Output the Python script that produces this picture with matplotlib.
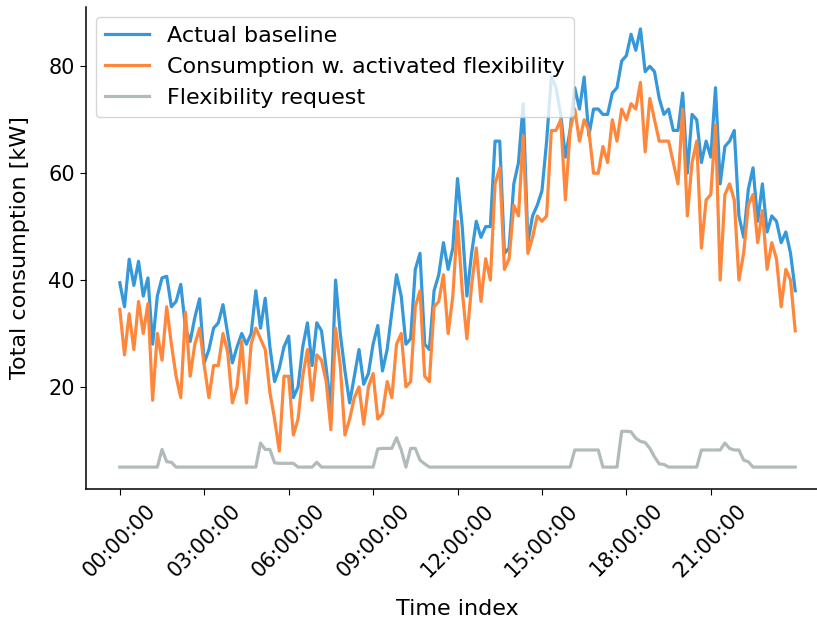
import numpy as np
import matplotlib.pyplot as plt

# =========================
# DATA (10 min resolution, 00:00 -> 24:00)
# =========================

baseline = [
    39.5, 35, 43.9, 39, 43.5, 37, 40.4, 28, 37, 40.4,
    40.7, 35, 36, 39.2, 31, 28.5, 33, 36.5, 24.5, 27,
    31, 32, 35.4, 30, 24.5, 27.5, 30, 28, 30, 38,
    31, 36.6, 27.5, 21, 23.5, 27.5, 29.5, 18, 20, 27.5,
    32, 24, 32, 30.5, 23.5, 16, 40, 30, 23, 17,
    22, 27, 20.5, 22.5, 28, 31.5, 23, 27, 34, 41,
    37, 28, 29, 42, 45, 28, 27, 38, 41, 47,
    42, 46, 59, 50, 37, 45, 51, 48, 50, 50,
    66, 66, 45, 46, 58, 62, 73, 47, 52, 54,
    56.7, 66, 78, 76, 71, 63, 68, 76, 72, 78,
    67, 72, 72, 71, 71, 75, 76, 81, 82, 86,
    83, 87, 79, 80, 79, 74, 71, 72, 68, 68,
    75, 60, 71, 70, 62, 66, 63, 76, 58, 65,
    66, 68, 52, 48, 57, 61, 51, 58, 49, 52,
    51, 47, 49, 45, 38,
]

flex_consumption = [
    34.5, 26, 33.7, 27, 36, 30, 35.6, 17.5, 30, 25,
    35, 28, 22, 18, 34, 22, 28, 31, 24, 18,
    24, 24, 30, 26.5, 17, 20, 28.6, 17, 28, 31,
    29, 27, 19, 14, 8, 22, 22, 11, 14, 22,
    27, 17.5, 26, 25, 21, 12, 31, 24, 11, 14,
    18, 20, 13, 20, 22.5, 14, 15, 21, 18, 28,
    30, 20, 21, 35, 38, 22, 21, 35, 36, 41,
    30, 37, 51, 38, 29, 39, 46, 36, 44, 40,
    58, 61, 42, 44, 54, 52, 67, 45, 48, 52,
    51, 52, 68, 68, 70, 55, 68, 72, 66, 70,
    68, 60, 60, 65, 62, 70, 66, 72, 70, 73,
    72, 77, 64, 74, 70, 66, 66, 66, 62, 58,
    72, 52, 62, 66, 46, 55, 56, 69, 40, 56,
    58, 55, 40, 45, 54, 56, 47, 53, 42, 47,
    44, 35, 42, 40, 30.5,
]

flex_request = [
    5, 5, 5, 5, 5, 5, 5, 5, 5, 8.3,
    6, 5.9, 5, 5, 5, 5, 5, 5, 5, 5,
    5, 5, 5, 5, 5, 5, 5, 5, 5, 5,
    9.5, 8.3, 8.3, 5.8, 5.7, 5.7, 5.7, 5.7, 5, 5,
    5, 5, 5.9, 5, 5, 5, 5, 5, 5, 5,
    5, 5, 5, 5, 5, 8.4, 8.5, 8.5, 8.5, 10.5,
    8.2, 5, 8.5, 8.5, 6.3, 5.6, 5, 5, 5, 5,
    5, 5, 5, 5, 5, 5, 5, 5, 5, 5,
    5, 5, 5, 5, 5, 5, 5, 5, 5, 5,
    5, 5, 5, 5, 5, 5, 5, 8.2, 8.2, 8.2,
    8.2, 8.2, 8.2, 5, 5, 5, 5, 11.7, 11.7, 11.6,
    10.4, 9.8, 9.6, 8.5, 6.9, 5.6, 5.5, 5, 5, 5,
    5, 5, 5, 5, 8.2, 8.2, 8.2, 8.2, 8.2, 9.5,
    8.5, 8.2, 8.2, 6.3, 6.0, 5, 5, 5, 5, 5,
    5, 5, 5, 5, 5,
]

tick_hours = [0, 3, 6, 9, 12, 15, 18, 21]
tick_labels = [f"{h:02d}:00:00" for h in tick_hours]

hours = np.arange(len(baseline)) / 6.0

# =========================
# PLOT
# =========================

plt.rcParams["font.family"] = "DejaVu Sans"
plt.rcParams["font.size"] = 16
plt.rcParams["xtick.labelsize"] = 15
plt.rcParams["ytick.labelsize"] = 15
plt.rcParams["xtick.major.size"] = 4.5
plt.rcParams["ytick.major.size"] = 4.5
plt.rcParams["axes.linewidth"] = 1.1

fig = plt.figure(figsize=(8.17, 6.2), dpi=100)
ax = fig.add_axes([0.1053, 0.2113, 0.9094, 0.7774])

ax.plot(hours, baseline, color="#3498db", lw=2.3, label="Actual baseline")
ax.plot(hours, flex_consumption, color="#fe873c", lw=2.3,
        label="Consumption w. activated flexibility")
ax.plot(hours, flex_request, color="#b2bbbb", lw=2.3,
        label="Flexibility request")

ax.set_xticks(tick_hours)
ax.set_xticklabels(tick_labels, rotation=45)
ax.set_yticks([20, 40, 60, 80])

ax.set_xlabel("Time index", labelpad=13)
ax.set_ylabel("Total consumption [kW]", labelpad=13)

ax.spines["top"].set_visible(False)
ax.spines["right"].set_visible(False)

ax.legend(loc="upper left", borderaxespad=0.45)

fig.savefig("out.png", dpi=100)
